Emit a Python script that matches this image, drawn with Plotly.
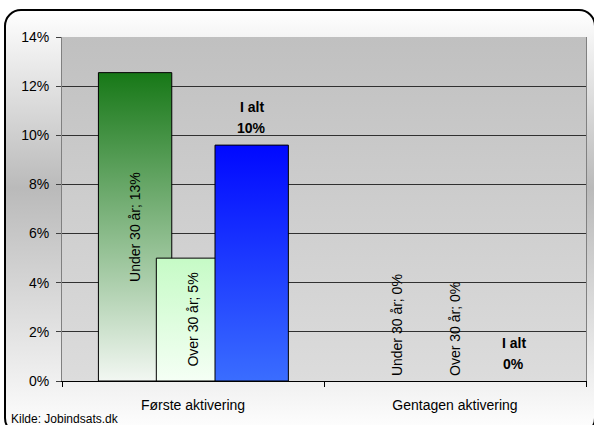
import base64
import plotly.graph_objects as go

# ---------------- data ----------------
categories = ["Første aktivering", "Gentagen aktivering"]
series_names = ["Under 30 år", "Over 30 år", "I alt"]
under_30 = [0.1255, 0.0]
over_30 = [0.050, 0.0]
i_alt = [0.096, 0.0]
y_ticks = [0.00, 0.02, 0.04, 0.06, 0.08, 0.10, 0.12, 0.14]
source_note = "Kilde: Jobindsats.dk"

# ---------------- layout / style ----------------
W, H = 594, 425
ML, MR, MT, MB = 62, 8, 37, 44
PW, PH = W - ML - MR, H - MT - MB
FONT = "Liberation Sans, Arial, sans-serif"

bar_width = 0.28
offsets = [-0.221, 0.0, 0.224]
gradients = [  # (bottom colour, top colour)
    ("#f2f7f2", "#177817"),
    ("#f5fff5", "#c6fbc6"),
    ("#3a6dff", "#0008ff"),
]
series_values = [under_30, over_30, i_alt]


def px_x(px):
    return (px - ML) / PW


def px_y(py):
    return (H - MB - py) / PH


def svg_uri(svg):
    return "data:image/svg+xml;base64," + base64.b64encode(svg.encode("utf-8")).decode("ascii")


frame_svg = (
    "<svg xmlns='http://www.w3.org/2000/svg' width='594' height='425' viewBox='0 0 594 425' "
    "preserveAspectRatio='none'>"
    "<defs><linearGradient id='g' x1='0' y1='0' x2='0' y2='1'>"
    "<stop offset='0' stop-color='#ffffff'/>"
    "<stop offset='0.42' stop-color='#bababa'/>"
    "<stop offset='1' stop-color='#ffffff'/>"
    "</linearGradient></defs>"
    "<rect x='5' y='10' width='590' height='424' rx='16' ry='16' fill='url(#g)' "
    "stroke='#000000' stroke-width='2'/>"
    "</svg>"
)

plot_svg = (
    "<svg xmlns='http://www.w3.org/2000/svg' width='100' height='100' viewBox='0 0 100 100' "
    "preserveAspectRatio='none'>"
    "<defs><linearGradient id='p' x1='0' y1='0' x2='0' y2='1'>"
    "<stop offset='0' stop-color='#c0c0c0'/>"
    "<stop offset='1' stop-color='#dcdcdc'/>"
    "</linearGradient></defs>"
    "<rect x='0' y='0' width='100' height='100' fill='url(#p)'/>"
    "</svg>"
)

fig = go.Figure()

# bars (drawn as filled shapes so they can carry a vertical gradient)
for s, vals in enumerate(series_values):
    xs, ys = [], []
    for i, v in enumerate(vals):
        if v <= 0:
            continue
        x0 = i + offsets[s] - bar_width / 2
        x1 = x0 + bar_width
        xs += [x0, x0, x1, x1, x0, None]
        ys += [0, v, v, 0, 0, None]
    fig.add_trace(go.Scatter(
        x=xs, y=ys, name=series_names[s], mode="lines", fill="toself",
        fillgradient=dict(type="vertical",
                          colorscale=[[0, gradients[s][0]], [1, gradients[s][1]]]),
        line=dict(color="#000000", width=1),
        hoverinfo="skip", showlegend=False,
    ))

annotations = []
# rotated labels for the two age groups
for s in (0, 1):
    for i, v in enumerate(series_values[s]):
        text = f"{series_names[s]}; {v:.0%}"
        if v > 0:
            y, yanchor, yshift = v / 2, "middle", 0
        else:
            y, yanchor, yshift = 0, "bottom", 3
        annotations.append(dict(
            x=i + offsets[s], y=y, xref="x", yref="y", text=text, textangle=-90,
            showarrow=False, yanchor=yanchor, xanchor="center", yshift=yshift,
            font=dict(family=FONT, size=14, color="#000000"),
        ))
# "I alt" labels above the total bars
for i, v in enumerate(i_alt):
    for txt, shift in ((f"<b>{series_names[2]}</b>", 38), (f"<b>{v:.0%}</b>", 17)):
        annotations.append(dict(
            x=i + offsets[2], y=v, xref="x", yref="y", text=txt, showarrow=False,
            yanchor="middle", xanchor="center", yshift=shift,
            font=dict(family=FONT, size=14, color="#000000"),
        ))
annotations.append(dict(
    x=px_x(9), y=px_y(419), xref="paper", yref="paper", text=source_note,
    showarrow=False, xanchor="left", yanchor="middle",
    font=dict(family=FONT, size=12, color="#000000"),
))

fig.update_layout(
    width=W, height=H,
    margin=dict(l=ML, r=MR, t=MT, b=MB, pad=0),
    paper_bgcolor="#ffffff",
    plot_bgcolor="rgba(0,0,0,0)",
    showlegend=False,
    font=dict(family=FONT, size=14, color="#000000"),
    annotations=annotations,
    images=[
        dict(source=svg_uri(frame_svg), xref="paper", yref="paper",
             x=px_x(0), y=px_y(0), sizex=W / PW, sizey=H / PH,
             xanchor="left", yanchor="top", sizing="stretch", layer="below"),
        dict(source=svg_uri(plot_svg), xref="x", yref="y",
             x=-0.5, y=y_ticks[-1], sizex=2, sizey=y_ticks[-1],
             xanchor="left", yanchor="top", sizing="stretch", layer="below"),
    ],
    xaxis=dict(
        range=[-0.5, 1.5], tickmode="array", tickvals=list(range(len(categories))),
        ticktext=categories, ticks="outside", ticklen=11, tickcolor="rgba(0,0,0,0)",
        showgrid=False, zeroline=False, showline=True, linecolor="#000000", linewidth=1,
        minor=dict(tickmode="array", tickvals=[-0.5, 0.5, 1.5], ticks="outside",
                   ticklen=5, tickcolor="#000000", showgrid=False),
        tickfont=dict(family=FONT, size=14, color="#000000"), fixedrange=True,
    ),
    yaxis=dict(
        range=[0, y_ticks[-1]], tickmode="array", tickvals=y_ticks, tickformat=".0%",
        ticks="outside", ticklen=5, tickcolor="#404040", ticklabelstandoff=4,
        showgrid=True, gridcolor="#303030", gridwidth=1, zeroline=False,
        showline=True, linecolor="#808080", linewidth=1, mirror=True,
        tickfont=dict(family=FONT, size=14, color="#000000"), fixedrange=True,
    ),
)

fig.write_html(
    "out.html",
    config={"displayModeBar": False},
    post_script="document.body.style.margin='0';document.body.style.padding='0';",
)
